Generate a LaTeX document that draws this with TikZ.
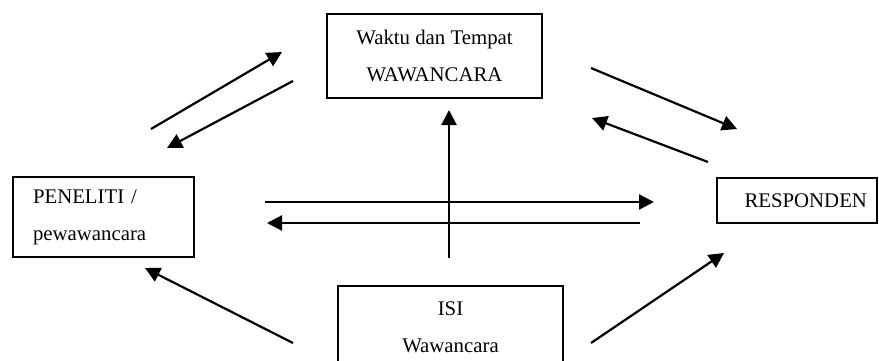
\documentclass[tikz,border=0pt]{standalone}
\usepackage{fontspec}
\setmainfont{Liberation Serif}
\usetikzlibrary{arrows.meta}

\begin{document}
\begin{tikzpicture}[x=1pt, y=-1pt, line width=2.2pt,
    box/.style={draw, rectangle, line width=1.6pt, inner sep=0pt, font=\fontsize{20.8}{37}\selectfont},
    arr/.style={-{Triangle[length=15pt,width=15pt]}}]
    \useasboundingbox (0,0) rectangle (879,360);
    \clip (0,0) rectangle (879,360);

    \node[box, minimum width=181pt, minimum height=80pt, text width=141pt, align=left] (peneliti) at (103.5,217) {PENELITI /\\pewawancara};
    \node[box, minimum width=215pt, minimum height=84pt, align=center] (waktu) at (434.5,56) {Waktu dan Tempat\\WAWANCARA};
    \node[box, minimum width=160pt, minimum height=45pt, text width=140pt, align=right] (responden) at (797,200.5) {RESPONDEN};
    \node[box, anchor=north, minimum width=225pt, inner ysep=16pt, align=center] (isi) at (450.5,285) {ISI\\Wawancara};

    \coordinate (tlA) at (151,129);
    \coordinate (tlB) at (282,52);
    \coordinate (tlC) at (293,81);
    \coordinate (tlD) at (167,148);
    \coordinate (trA) at (591,68);
    \coordinate (trB) at (737,129);
    \coordinate (trC) at (708,162);
    \coordinate (trD) at (592,118);
    \coordinate (mrA) at (265,202);
    \coordinate (mrB) at (654,202);
    \coordinate (mlA) at (640,223);
    \coordinate (mlB) at (267,223);
    \coordinate (vA) at (449,258);
    \coordinate (vB) at (449,110);
    \coordinate (blA) at (293,343);
    \coordinate (blB) at (145,268);
    \coordinate (brA) at (591,343);
    \coordinate (brB) at (724,253);

    \draw[arr] (tlA) -- (tlB);
    \draw[arr] (tlC) -- (tlD);
    \draw[arr] (trA) -- (trB);
    \draw[arr] (trC) -- (trD);
    \draw[arr] (mrA) -- (mrB);
    \draw[arr] (mlA) -- (mlB);
    \draw[arr] (vA) -- (vB);
    \draw[arr] (blA) -- (blB);
    \draw[arr] (brA) -- (brB);
\end{tikzpicture}
\end{document}
